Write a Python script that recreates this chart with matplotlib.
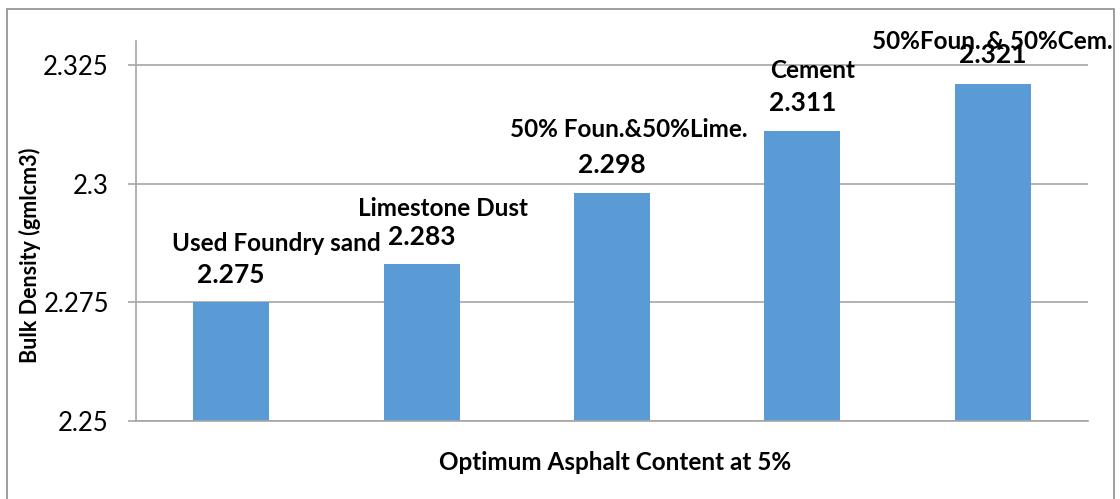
import matplotlib.pyplot as plt
from matplotlib.patches import Rectangle

materials = ["Used Foundry sand", "Limestone Dust", "50% Foun.&50%Lime.",
             "Cement", "50%Foun. & 50%Cem."]
density = [2.275, 2.283, 2.298, 2.311, 2.321]
yticks = [2.25, 2.275, 2.3, 2.325]
ytick_labels = ["2.25", "2.275", "2.3", "2.325"]

# hand placed label offsets (pixels) from top centre of each bar
name_off = [(45, 59), (21, 56), (17, 63), (10, 61), (0, 42)]
value_off = [(0, 27), (0, 27), (0, 28), (0, 28), (0, 29)]

plt.rcParams['font.family'] = ['Lato', 'DejaVu Sans']

fig = plt.figure(figsize=(11.2, 4.99), dpi=100)
ax = fig.add_axes([136 / 1120, 1 - 421 / 499, 952 / 1120, 380 / 499])

x = range(len(materials))
ax.bar(x, density, width=0.4, color='#5B9BD5', zorder=2)
ax.set_xlim(-0.5, len(materials) - 0.5)
ax.set_ylim(2.25, 2.33)
ax.set_yticks(yticks)
ax.set_yticklabels(ytick_labels, fontsize=18.5)
ax.set_xticks([])

ax.grid(True, axis='y', color='#a6a6a6', linewidth=1.2, zorder=0)
for s in ['top', 'right']:
    ax.spines[s].set_visible(False)
ax.spines['left'].set_color('#a6a6a6')
ax.spines['bottom'].set_color('#a6a6a6')
ax.spines['left'].set_linewidth(1.2)
ax.spines['bottom'].set_linewidth(1.2)
ax.tick_params(axis='y', length=6, color='#a6a6a6', width=1.2, pad=13.5)

for i, (name, v) in enumerate(zip(materials, density)):
    ax.annotate(f"{v:.3f}", xy=(i, v), xytext=value_off[i], textcoords='offset pixels',
                ha='center', va='center', fontsize=19, fontweight='bold')
    ax.annotate(name, xy=(i, v), xytext=name_off[i], textcoords='offset pixels',
                ha='center', va='center', fontsize=17.5, fontweight='bold',
                annotation_clip=False)

fig.text(30 / 1120, 1 - 255 / 499, "Bulk Density (gmlcm3)", rotation=90,
         ha='center', va='center', fontsize=15.5, fontweight='bold')
fig.text(615 / 1120, 1 - 463 / 499, "Optimum Asphalt Content at 5%",
         ha='center', va='center', fontsize=17.5, fontweight='bold')

fig.patches.append(Rectangle((7 / 1120, -0.01), 1107 / 1120, 1 - 9 / 499 + 0.01,
                             transform=fig.transFigure, fill=False,
                             edgecolor='#8c8c8c', linewidth=1.2))

fig.savefig("out.png", dpi=100)
